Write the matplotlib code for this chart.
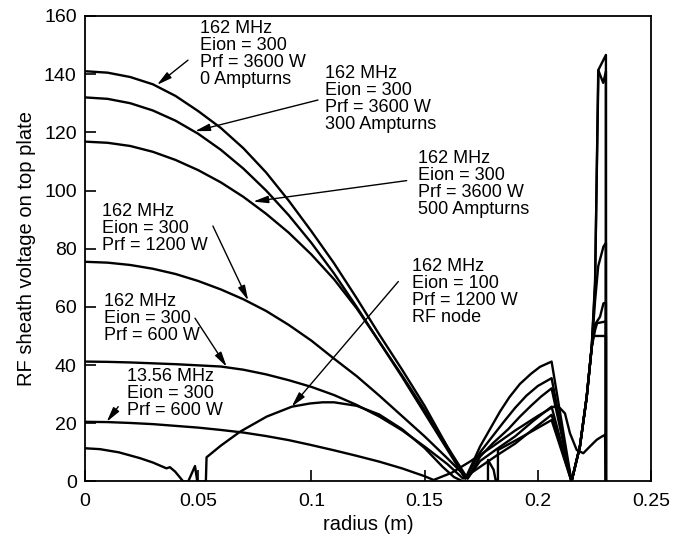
import matplotlib
matplotlib.use("Agg")
import matplotlib.pyplot as plt

plt.rcParams['font.family'] = ['Liberation Sans', 'DejaVu Sans']

# 162 MHz, Eion = 300, Prf = 3600 W, 0 Ampturns
r_a = [0, 0.01, 0.02, 0.03, 0.04, 0.05, 0.06, 0.07, 0.08, 0.09, 0.10,
       0.11, 0.12, 0.13, 0.14, 0.15, 0.16, 0.165, 0.168,
       0.171, 0.1745, 0.18, 0.1833, 0.1875, 0.1921, 0.197, 0.201, 0.2061,
       0.2149, 0.2186, 0.2216, 0.2238, 0.2253, 0.2268, 0.2301, 0.2301]
v_a = [141, 140.5, 139, 136.5, 132.5, 127.3, 121.5, 114.5, 106.2, 96.5, 86,
       75, 63, 50.5, 38.5, 26, 12, 5, 1,
       6, 12, 19.5, 24, 29, 33.5, 37, 39.4, 41.2,
       0, 12, 29, 46, 69, 141.5, 146.6, 0]

# 162 MHz, Eion = 300, Prf = 3600 W, 300 Ampturns
r_b = [0, 0.01, 0.02, 0.03, 0.04, 0.05, 0.06, 0.07, 0.08, 0.09, 0.10,
       0.11, 0.12, 0.13, 0.14, 0.15, 0.16, 0.168,
       0.1745, 0.18, 0.185, 0.19, 0.195, 0.2, 0.2061,
       0.2149, 0.2186, 0.2216, 0.2238, 0.2253, 0.2267, 0.2289, 0.2301, 0.2301]
v_b = [132, 131.5, 130, 127.5, 124, 119.5, 114, 107.5, 100, 91.5, 82,
       71.5, 60, 48, 36, 23.5, 11, 1,
       10, 15.5, 20.5, 25.3, 29.5, 32.8, 35.5,
       0, 12, 29, 46, 67, 141.4, 137, 141, 0]

# 162 MHz, Eion = 300, Prf = 3600 W, 500 Ampturns
r_c = [0, 0.01, 0.02, 0.03, 0.04, 0.05, 0.06, 0.07, 0.08, 0.09, 0.10,
       0.11, 0.12, 0.13, 0.14, 0.15, 0.16, 0.169,
       0.1745, 0.18, 0.187, 0.192, 0.197, 0.2015, 0.2061,
       0.2149, 0.2186, 0.2216, 0.2238, 0.2253, 0.2267, 0.229, 0.2301, 0.2301]
v_c = [116.8, 116.4, 115.3, 113.3, 110.5, 107, 102.8, 97.8, 92, 85.5, 78,
       69.5, 59.5, 48, 36.5, 24.5, 12, 1,
       8.5, 13, 18, 22.2, 26, 29.2, 32,
       0, 12, 29, 46, 62, 74, 80.7, 82, 0]

# 162 MHz, Eion = 300, Prf = 1200 W
r_d = [0, 0.01, 0.02, 0.03, 0.04, 0.05, 0.06, 0.07, 0.08, 0.09, 0.10,
       0.11, 0.12, 0.13, 0.14, 0.15, 0.16, 0.169,
       0.1745, 0.182, 0.19, 0.198, 0.2061,
       0.2149, 0.2186, 0.2216, 0.2238, 0.2253, 0.2275, 0.229, 0.2301, 0.2301]
v_d = [75.5, 75.2, 74.4, 73.1, 71.3, 68.9, 66, 62.6, 58.6, 53.8, 48.4,
       42.2, 36.2, 29.5, 22.5, 15.5, 8, 1,
       7, 11.2, 15.5, 20.8, 25.7,
       0, 12, 29, 46, 54, 56.6, 61.2, 61.5, 0]

# 162 MHz, Eion = 300, Prf = 600 W
r_e = [0, 0.01, 0.02, 0.03, 0.04, 0.05, 0.06, 0.07, 0.08, 0.09, 0.10,
       0.11, 0.12, 0.13, 0.14, 0.15, 0.16, 0.167,
       0.1745, 0.182, 0.19, 0.198, 0.2061,
       0.2149, 0.2186, 0.2216, 0.2238, 0.2253, 0.2262, 0.2301, 0.2301]
v_e = [41.2, 41.1, 40.9, 40.6, 40.3, 39.9, 39.5, 38.4, 36.8, 34.8, 32.5,
       29.7, 26.3, 22.3, 17.6, 12, 6, 1,
       5, 9, 13, 18, 22.9,
       0, 12, 29, 46, 52, 54.4, 55, 0]

# 13.56 MHz, Eion = 300, Prf = 600 W
r_f = [0, 0.01, 0.02, 0.03, 0.04, 0.05, 0.06, 0.07, 0.08, 0.09, 0.10,
       0.11, 0.12, 0.13, 0.14, 0.15, 0.154,
       0.162, 0.17, 0.18, 0.19, 0.2, 0.2069, 0.2098, 0.212, 0.2142,
       0.2172, 0.2201, 0.223, 0.226, 0.2282, 0.2297, 0.2301]
v_f = [20.5, 20.4, 20.1, 19.7, 19.1, 18.5, 17.7, 16.8, 15.6, 14.2, 12.5,
       10.7, 8.8, 6.8, 4.5, 1.8, 0.5,
       3, 6.8, 12, 17.5, 22.5, 25.7, 25.2, 23.4, 16.6,
       10.8, 9.7, 12, 14.3, 15.4, 16, 0]

# 162 MHz, Eion = 100, Prf = 1200 W, RF node
r_g = [0, 0.0066, 0.015, 0.0243, 0.03, 0.036, 0.0375, 0.0398, 0.0434,
       0.0456, 0.0486, 0.0496, 0.0534, 0.0537, 0.0545, 0.06, 0.0685,
       0.0803, 0.0914, 0.0994, 0.105, 0.11, 0.12, 0.13, 0.14, 0.15,
       0.158, 0.163, 0.167, 0.178, 0.178, 0.1805, 0.1815, 0.1824, 0.1824,
       0.19, 0.198, 0.2061, 0.2149, 0.2186, 0.2216, 0.2238, 0.2245,
       0.2301, 0.2301]
v_g = [11.4, 11.1, 10, 8, 6.5, 4.5, 4.9, 3.4, 0,
       0, 5.3, 0, 0, 8.3, 8.8, 12.3, 17.1,
       22.3, 25.7, 26.8, 27.2, 27.2, 26, 23, 18, 11.5,
       5, 1.5, 0, 0, 7.4, 4, 0, 0, 10.8,
       14, 17.5, 21.1, 0, 12, 29, 46, 50,
       50, 0]

curves = [(r_a, v_a), (r_b, v_b), (r_c, v_c), (r_d, v_d),
          (r_e, v_e), (r_f, v_f), (r_g, v_g)]

# label text, text position (left, top), arrow tail, arrow head
labels = [
    ("162 MHz\nEion = 300\nPrf = 3600 W\n0 Ampturns", (0.0508, 158.6), (0.0455, 144.8), (0.0318, 136.3)),
    ("162 MHz\nEion = 300\nPrf = 3600 W\n300 Ampturns", (0.106, 143.1), (0.1029, 131.1), (0.0486, 120.4)),
    ("162 MHz\nEion = 300\nPrf = 3600 W\n500 Ampturns", (0.147, 113.9), (0.1421, 103.4), (0.0743, 96.2)),
    ("162 MHz\nEion = 300\nPrf = 1200 W", (0.0075, 95.7), (0.0565, 87.8), (0.0721, 62.2)),
    ("162 MHz\nEion = 300\nPrf = 600 W", (0.0084, 64.8), (0.0486, 56.1), (0.0626, 39.4)),
    ("13.56 MHz\nEion = 300\nPrf = 600 W", (0.0184, 39.0), (0.0147, 25.7), (0.0096, 20.5)),
    ("162 MHz\nEion = 100\nPrf = 1200 W\nRF node", (0.1443, 76.8), (0.1384, 68.7), (0.0913, 25.7)),
]

xticks = [0, 0.05, 0.1, 0.15, 0.2, 0.25]
xticklabels = ['0', '0.05', '0.1', '0.15', '0.2', '0.25']
yticks = [0, 20, 40, 60, 80, 100, 120, 140, 160]

fig = plt.figure(figsize=(6.88, 5.44), dpi=100)
ax = fig.add_axes([0.1235, 0.115, 0.8227, 0.8557])

for r, v in curves:
    ax.plot(r, v, color='k', lw=1.7)

for txt, pos, tail, head in labels:
    ax.text(pos[0], pos[1], txt, fontsize=13, va='top', ha='left', linespacing=1.0)
    ax.annotate('', xy=head, xytext=tail,
                arrowprops=dict(arrowstyle='-|>,head_length=0.9,head_width=0.22',
                                color='k', lw=1.0, shrinkA=0, shrinkB=0))

ax.set_xlim(0, 0.25)
ax.set_ylim(0, 160)
ax.set_xticks(xticks)
ax.set_xticklabels(xticklabels)
ax.set_yticks(yticks)
ax.tick_params(direction='in', length=8, width=1.2, labelsize=14)
ax.tick_params(axis='y', pad=6)
ax.tick_params(axis='x', pad=8)
for s in ax.spines.values():
    s.set_linewidth(1.3)

ax.set_xlabel('radius (m)', fontsize=14.5, labelpad=4)
ax.set_ylabel('RF sheath voltage on top plate', fontsize=14.5, labelpad=6)

fig.savefig('out.png', dpi=100)
